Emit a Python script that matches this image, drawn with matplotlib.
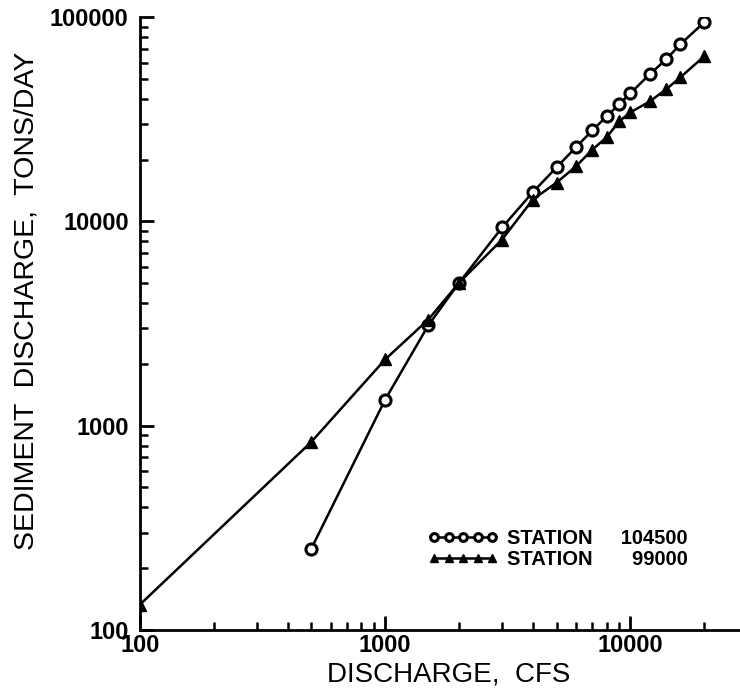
import matplotlib.pyplot as plt
import matplotlib.ticker as mticker

plt.rcParams['font.family'] = ['Liberation Sans', 'DejaVu Sans']

# Station 104500 (open circles)
q_104500 = [500, 1000, 1500, 2000, 3000, 4000, 5000, 6000, 7000, 8000, 9000,
            10000, 12000, 14000, 16000, 20000]
s_104500 = [250, 1340, 3100, 5000, 9350, 13900, 18400, 23100, 27900, 32700, 37500,
            42400, 52600, 62200, 73800, 94400]

# Station 99000 (filled triangles)
q_99000 = [100, 500, 1000, 1500, 2000, 3000, 4000, 5000, 6000, 7000, 8000, 9000,
           10000, 12000, 14000, 16000, 20000]
s_99000 = [133, 833, 2110, 3310, 5000, 8160, 12800, 15500, 18600, 22500, 25800, 30900,
           34200, 38700, 44400, 50800, 64400]

fig = plt.figure(figsize=(7.4, 6.9), dpi=100)
ax = fig.add_axes([0.189, 0.087, 0.811, 0.888])

ax.plot(q_104500, s_104500, color='black', linewidth=1.8, marker='o', markersize=8,
        markerfacecolor='white', markeredgecolor='black', markeredgewidth=2.2,
        label='STATION     104500')
ax.plot(q_99000, s_99000, color='black', linewidth=1.8, marker='^', markersize=9,
        markerfacecolor='black', markeredgecolor='black',
        label='STATION       99000')

ax.set_xscale('log')
ax.set_yscale('log')
ax.set_xlim(100, 28000)
ax.set_ylim(100, 100000)

ax.xaxis.set_major_locator(mticker.FixedLocator([100, 1000, 10000]))
ax.yaxis.set_major_locator(mticker.FixedLocator([100, 1000, 10000, 100000]))
ax.xaxis.set_major_formatter(mticker.FuncFormatter(lambda v, p: '%d' % v))
ax.yaxis.set_major_formatter(mticker.FuncFormatter(lambda v, p: '%d' % v))
ax.xaxis.set_minor_locator(mticker.LogLocator(base=10, subs=range(2, 10)))
ax.yaxis.set_minor_locator(mticker.LogLocator(base=10, subs=range(2, 10)))
ax.xaxis.set_minor_formatter(mticker.NullFormatter())
ax.yaxis.set_minor_formatter(mticker.NullFormatter())

ax.tick_params(which='major', direction='in', length=10, width=2, labelsize=17)
ax.tick_params(which='minor', direction='in', length=6, width=1.8)
ax.tick_params(axis='x', which='major', pad=3)
ax.tick_params(axis='y', which='major', pad=8)
for lab in ax.get_xticklabels() + ax.get_yticklabels():
    lab.set_fontweight('bold')

for side in ['top', 'right']:
    ax.spines[side].set_visible(False)
for side in ['left', 'bottom']:
    ax.spines[side].set_linewidth(2)

ax.set_xlabel('DISCHARGE,  CFS', fontsize=20)
ax.xaxis.set_label_coords(0.514, -0.052)
ax.set_ylabel('SEDIMENT  DISCHARGE,  TONS/DAY', fontsize=20.5)
ax.yaxis.set_label_coords(-0.168, 0.537)

leg = ax.legend(loc='center left', bbox_to_anchor=(0.48, 0.132), numpoints=5,
                frameon=False, prop={'size': 14.5, 'weight': 'bold'},
                handlelength=3.5, handletextpad=0.45, labelspacing=0.1,
                markerscale=0.7, borderpad=0, borderaxespad=0)

fig.savefig('out.png', dpi=100)
